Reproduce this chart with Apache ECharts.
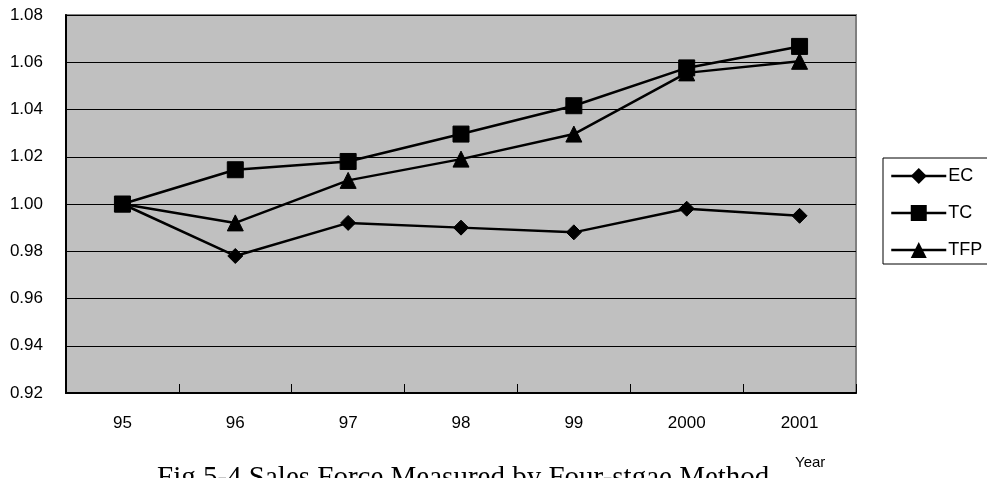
<!DOCTYPE html>
<html>
<head>
<meta charset="utf-8">
<script src="https://cdn.jsdelivr.net/npm/echarts@6/dist/echarts.min.js"></script>
<style>
html,body{margin:0;padding:0;background:#fff;}
#chart{width:987px;height:478px;}
</style>
</head>
<body>
<div id="chart"></div>
<script>
const categories = ['95', '96', '97', '98', '99', '2000', '2001'];
const ecValues  = [1.000, 0.978, 0.992, 0.990, 0.988, 0.998, 0.995];
const tcValues  = [1.000, 1.0145, 1.018, 1.0296, 1.0416, 1.0576, 1.0667];
const tfpValues = [1.000, 0.992, 1.010, 1.019, 1.0296, 1.0555, 1.0604];
const seriesNames = ['EC', 'TC', 'TFP'];
const titleText = 'Fig 5-4 Sales Force Measured by Four-stgae Method';
const xAxisName = 'Year';

const chart = echarts.init(document.getElementById('chart'));
const sans = 'Liberation Sans';
function mk(name, data, symbol, size) {
  return {
    name: name, type: 'line', data: data, symbol: symbol, symbolSize: size,
    showAllSymbol: true,
    lineStyle: { color: '#000', width: 2.5 },
    itemStyle: { color: '#000', borderColor: '#000' },
    emphasis: { disabled: true },
    animation: false
  };
}
chart.setOption({
  animation: false,
  backgroundColor: '#fff',
  title: {
    text: titleText,
    left: 152, top: 459,
    textStyle: { fontFamily: 'Liberation Serif', fontSize: 29, fontWeight: 'normal', color: '#000' }
  },
  graphic: [{
    type: 'text', left: 795, top: 455,
    style: { text: xAxisName, fontFamily: sans, fontSize: 15, fill: '#000' }
  }],
  legend: {
    orient: 'vertical',
    left: 883, top: 158,
    padding: [9, 8, 5, 7],
    itemWidth: 55, itemHeight: 20, itemGap: 19,
    borderColor: '#000', borderWidth: 1,
    lineStyle: { width: 2.5, color: '#000' },
    textStyle: { fontFamily: sans, fontSize: 18, color: '#000', padding: [0, 0, 0, -3] },
    data: seriesNames
  },
  grid: {
    left: 66, right: 131, top: 15, bottom: 85,
    show: true, backgroundColor: '#c0c0c0', borderColor: '#808080', borderWidth: 2
  },
  xAxis: {
    type: 'category', data: categories, boundaryGap: true,
    axisLine: { lineStyle: { color: '#000', width: 2 } },
    axisTick: { show: true, inside: true, length: 9, lineStyle: { color: '#000', width: 1 } },
    axisLabel: { fontFamily: sans, fontSize: 17, color: '#000', margin: 22 },
    splitLine: { show: false }
  },
  yAxis: {
    type: 'value', min: 0.92, max: 1.08, interval: 0.02,
    axisLine: { show: true, lineStyle: { color: '#000', width: 2 } },
    axisTick: { show: true, inside: true, length: 6, lineStyle: { color: '#000' } },
    axisLabel: { fontFamily: sans, fontSize: 17, color: '#000', margin: 23,
      formatter: v => v.toFixed(2) },
    splitLine: { show: true, lineStyle: { color: '#000', width: 1 } }
  },
  series: [
    mk(seriesNames[0], ecValues, 'diamond', 15),
    mk(seriesNames[1], tcValues, 'rect', 16),
    mk(seriesNames[2], tfpValues, 'triangle', 16)
  ]
});
</script>
</body>
</html>
